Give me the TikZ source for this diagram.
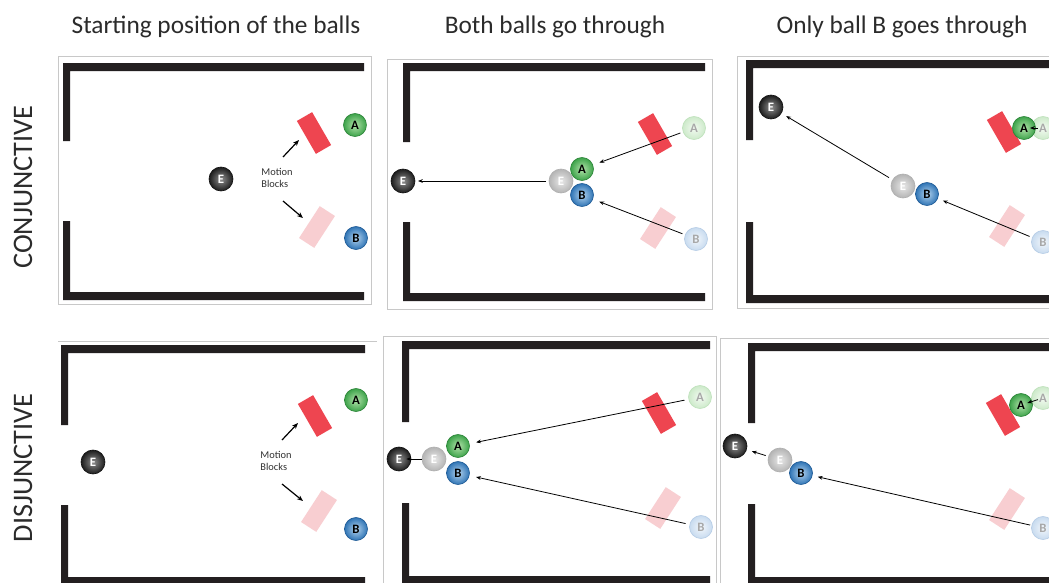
\documentclass[tikz,border=0pt]{standalone}
\usepackage{fontspec}
\setmainfont{Carlito}
\usetikzlibrary{arrows.meta,calc}

\definecolor{wallc}{HTML}{231F20}
\definecolor{framec}{HTML}{C8C8C8}
\definecolor{titlec}{HTML}{2B2B2B}
\definecolor{redblk}{HTML}{EE4550}
\definecolor{pinkblk}{HTML}{F8CED1}
\definecolor{grnIn}{HTML}{B2E2AA}
\definecolor{grnOut}{HTML}{3DA34A}
\definecolor{grnRim}{HTML}{2C8538}
\definecolor{bluIn}{HTML}{B3D3EE}
\definecolor{bluOut}{HTML}{2F74B5}
\definecolor{bluRim}{HTML}{1F5B96}
\definecolor{fgIn}{HTML}{F3FAF2}
\definecolor{fgOut}{HTML}{CDEACA}
\definecolor{fgRim}{HTML}{BFE2BC}
\definecolor{fbIn}{HTML}{F2F7FC}
\definecolor{fbOut}{HTML}{C8DBEF}
\definecolor{fbRim}{HTML}{B7CDE6}
\definecolor{geIn}{HTML}{E8E8E8}
\definecolor{geOut}{HTML}{B4B4B4}
\definecolor{geRim}{HTML}{B0B0B0}
\definecolor{deIn}{HTML}{8E8E8E}
\definecolor{deOut}{HTML}{1C1C1C}
\definecolor{deRim}{HTML}{111111}
\definecolor{fadetxt}{HTML}{A8A8A8}

% chamber: left, top, right, bottom, end of upper left wall, start of lower left wall
\newcommand{\drawchamber}[6]{%
  \fill[wallc] (#1,#2) rectangle (#3,#2+8)
               (#1,#2) rectangle (#1+7,#5)
               (#1,#6) rectangle (#1+7,#4)
               (#1,#4-8) rectangle (#3,#4);}

\tikzset{
  ballbase/.style={circle, inner sep=0pt, line width=0.5pt,
    font=\bfseries\fontsize{9.6}{10}\selectfont},
  ballE/.style={ballbase, minimum size=18pt, draw=deRim, inner color=deIn, outer color=deOut, text=white},
  ghostE/.style={ballbase, minimum size=18pt, draw=geRim, inner color=geIn, outer color=geOut, text=white},
  ballA/.style={ballbase, minimum size=17.25pt, draw=grnRim, inner color=grnIn, outer color=grnOut, text=black},
  ballB/.style={ballbase, minimum size=17.25pt, draw=bluRim, inner color=bluIn, outer color=bluOut, text=black},
  ghostA/.style={ballbase, minimum size=17.25pt, draw=fgRim, inner color=fgIn, outer color=fgOut, text=fadetxt},
  ghostB/.style={ballbase, minimum size=17.25pt, draw=fbRim, inner color=fbIn, outer color=fbOut, text=fadetxt},
  redblock/.style={rectangle, fill=redblk, minimum width=13.2pt, minimum height=28.5pt, inner sep=0pt, rotate=30},
  pinkblock/.style={rectangle, fill=pinkblk, minimum width=13.6pt, minimum height=28.5pt, inner sep=0pt, rotate=-33},
  panelframe/.style={draw=framec, line width=0.75pt},
  arr/.style={draw=black, line width=0.6pt, -{Stealth[length=3.6pt,width=2.8pt]}},
  motionarr/.style={draw=black, line width=0.9pt, -{Stealth[length=4.5pt,width=3.6pt]}},
  coltitle/.style={anchor=base, text=titlec, font=\fontsize{19}{22}\selectfont},
  rowtitle/.style={rotate=90, text=titlec, font=\fontsize{21.2}{24}\selectfont},
  mblabel/.style={align=left, text=black!80, font=\fontsize{7.8}{9.6}\selectfont, inner sep=0pt}
}

\begin{document}
\begin{tikzpicture}[x=0.75pt,y=-0.75pt]
\useasboundingbox (0,0) rectangle (1049,582);
\clip (0,0) rectangle (1049,582);
\fill[white] (0,0) rectangle (1049,582);

% column and row headings
\node[coltitle] (t1) at (216,33) {Starting position of the balls};
\node[coltitle] (t2) at (555,33) {Both balls go through};
\node[coltitle] (t3) at (902,33) {Only ball B goes through};
\node[rowtitle] (r1) at (23,187) {CONJUNCTIVE};
\node[rowtitle] (r2) at (23,468) {DISJUNCTIVE};

% panel frames
\draw[panelframe] (58,56) rectangle (371,304);
\draw[panelframe] (387,59) rectangle (712,309);
\draw[panelframe] (1060,56) -- (737,56) -- (737,308) -- (1060,308);
\draw[panelframe] (58,341) -- (377,341);
\draw[panelframe] (383,600) -- (383,336) -- (716,336) -- (716,600);
\draw[panelframe] (1060,338) -- (720,338) -- (720,600);

% chamber walls
\drawchamber{63}{63}{364}{300}{141}{221}
\drawchamber{403}{63}{705}{301}{142}{222}
\drawchamber{746}{60}{1060}{303}{140}{222}
\drawchamber{61}{345}{365}{585}{425}{505}
\drawchamber{402}{341}{710}{584}{422}{503}
\drawchamber{748}{343}{1060}{585}{423}{504}

% ---------- conjunctive, start ----------
\node[redblock] (p1r) at (314,133) {};
\node[pinkblock] (p1p) at (317,227) {};
\node[ballE] (p1E) at (221,179) {E};
\node[ballA] (p1A) at (355,125) {A};
\node[ballB] (p1B) at (356,238) {B};
\node[mblabel] (p1mb) at (277,178) {Motion\\Blocks};
\coordinate (p1u0) at (283,157); \coordinate (p1u1) at (299,140);
\coordinate (p1d0) at (283,201); \coordinate (p1d1) at (303,218);
\draw[motionarr] (p1u0) -- (p1u1);
\draw[motionarr] (p1d0) -- (p1d1);

% ---------- conjunctive, both through ----------
\node[redblock] (p2r) at (655,134) {};
\node[pinkblock] (p2p) at (658,228) {};
\node[ghostA] (p2fA) at (694,128) {A};
\node[ghostB] (p2fB) at (696,239) {B};
\node[ghostE] (p2gE) at (561,181) {E};
\node[ballA] (p2A) at (582,169) {A};
\node[ballB] (p2B) at (582,195) {B};
\node[ballE] (p2E) at (403,181) {E};
\draw[arr, shorten <=2pt, shorten >=5pt] (p2fA) -- (p2A);
\draw[arr, shorten <=2pt, shorten >=5pt] (p2fB) -- (p2B);
\draw[arr, shorten <=2pt, shorten >=2pt] (p2gE) -- (p2E);

% ---------- conjunctive, only B ----------
\node[redblock] (p3r) at (1004,132) {};
\node[pinkblock] (p3p) at (1007,226) {};
\node[ghostA] (p3fA) at (1043,128) {A};
\node[ballA] (p3A) at (1024,128) {A};
\node[ghostB] (p3fB) at (1043,242) {B};
\node[ghostE] (p3gE) at (903,186) {E};
\node[ballB] (p3B) at (927,194) {B};
\node[ballE] (p3E) at (771,107) {E};
\draw[arr, shorten <=2pt, shorten >=4pt] (p3fB) -- (p3B);
\draw[arr, shorten <=3pt, shorten >=4pt] (p3gE) -- (p3E);
\draw[arr, shorten <=4pt, shorten >=4.5pt] (p3fA.center) -- (p3A.center);

% ---------- disjunctive, start ----------
\node[redblock] (p4r) at (315,416) {};
\node[pinkblock] (p4p) at (319,511) {};
\node[ballE] (p4E) at (93,462) {E};
\node[ballA] (p4A) at (356,400) {A};
\node[ballB] (p4B) at (356,529) {B};
\node[mblabel] (p4mb) at (276,461) {Motion\\Blocks};
\coordinate (p4u0) at (282,440); \coordinate (p4u1) at (298,423);
\coordinate (p4d0) at (282,484); \coordinate (p4d1) at (303,501);
\draw[motionarr] (p4u0) -- (p4u1);
\draw[motionarr] (p4d0) -- (p4d1);

% ---------- disjunctive, both through ----------
\node[redblock] (p5r) at (659,413) {};
\node[pinkblock] (p5p) at (663,508) {};
\node[ghostA] (p5fA) at (700,397) {A};
\node[ghostB] (p5fB) at (701,527) {B};
\node[ghostE] (p5gE) at (434,459) {E};
\node[ballA] (p5A) at (458,446) {A};
\node[ballB] (p5B) at (458,473) {B};
\node[ballE] (p5E) at (399,459) {E};
\draw[arr, shorten <=3pt, shorten >=5pt] (p5fA) -- (p5A);
\draw[arr, shorten <=3pt, shorten >=5pt] (p5fB) -- (p5B);
\draw[arr, shorten >=5.5pt] (p5gE.west) -- (p5E.center);

% ---------- disjunctive, only B ----------
\node[redblock] (p6r) at (1003,415) {};
\node[pinkblock] (p6p) at (1007,509) {};
\node[ghostA] (p6fA) at (1043,398) {A};
\node[ballA] (p6A) at (1021,405) {A};
\node[ghostB] (p6fB) at (1043,528) {B};
\node[ghostE] (p6gE) at (780,460) {E};
\node[ballB] (p6B) at (801,473) {B};
\node[ballE] (p6E) at (735,446) {E};
\draw[arr, shorten <=1pt, shorten >=4pt] (p6fB) -- (p6B);
\draw[arr, shorten <=2pt, shorten >=4pt] (p6gE) -- (p6E);
\draw[arr, shorten <=4pt, shorten >=5pt] (p6fA.center) -- (p6A.center);
\end{tikzpicture}
\end{document}
